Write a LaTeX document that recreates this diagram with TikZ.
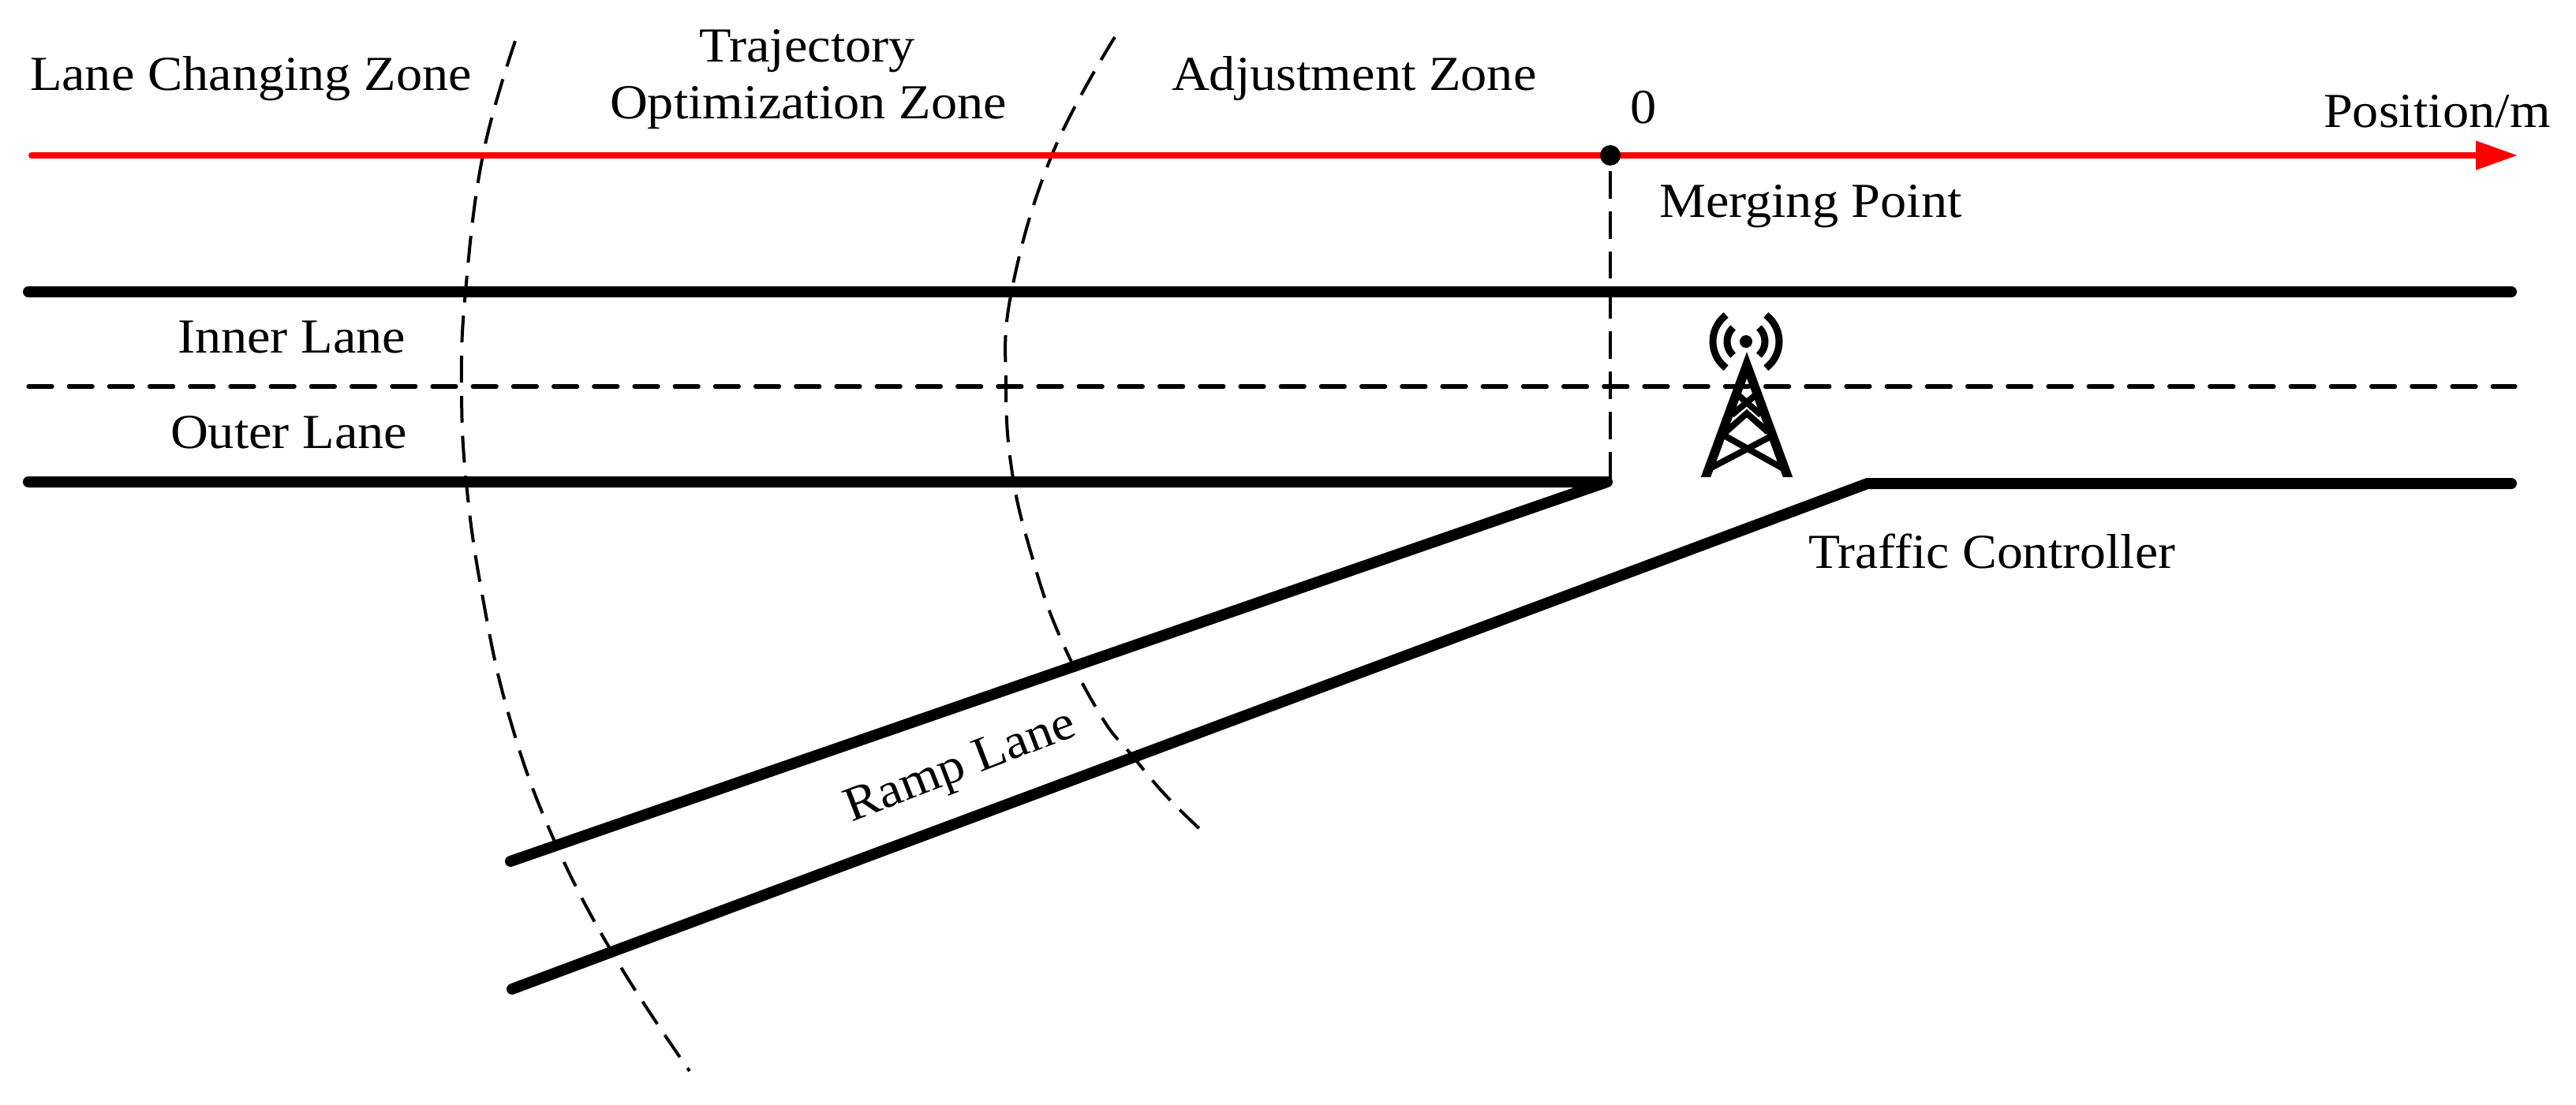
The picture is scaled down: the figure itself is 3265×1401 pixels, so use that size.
\documentclass[tikz,border=0pt]{standalone}
\usepackage{fontspec}
\setmainfont[FakeStretch=1.07]{Liberation Serif}
\usetikzlibrary{arrows.meta}
\tikzset{
  lbl/.style={anchor=base west,inner sep=0pt,outer sep=0pt,font=\fontsize{15.5}{18}\selectfont},
  road/.style={line width=3.5pt,black,line cap=round,line join=round},
  axisline/.style={line width=2pt,red,line cap=round,-{Triangle[length=13.25pt,width=8.75pt]}},
  lanedash/.style={line width=1.3pt,black,line cap=round,dash pattern=on 7.5pt off 5.3pt},
  vdash/.style={line width=1pt,black,dash pattern=on 8.7pt off 4pt},
  zone/.style={line width=1pt,black,dash pattern=on 8.5pt off 4.2pt},
  leg/.style={line width=2.9pt,black,line join=miter},
  brace/.style={line width=2pt,black},
  wave/.style={line width=2.25pt,black}
}
\begin{document}
\begin{tikzpicture}[x=0.25pt,y=-0.25pt]
\path[use as bounding box] (0,0) rectangle (3265,1401);
% coordinates
\coordinate (axL) at (40,197);
\coordinate (axR) at (3191,197);
\coordinate (merge) at (2041,197);
\coordinate (dashTop) at (2041,217);
\coordinate (dashBot) at (2041,611);
\coordinate (kink) at (2037,611);
\coordinate (topL) at (36,370);
\coordinate (topR) at (3183,370);
\coordinate (midL) at (36,490);
\coordinate (midR) at (3188,490);
\coordinate (outL) at (36,611);
\coordinate (rampTopL) at (647,1092);
\coordinate (rampLowL) at (649,1254);
\coordinate (rampKink) at (2367,613);
\coordinate (outR) at (3183,613);
% zone boundaries
\draw[zone] plot[smooth,tension=0.7] coordinates {(653,52) (612,197) (590,370) (585,490) (591,612) (611,753) (645,907) (700,1060) (779,1213) (874,1358)};
\draw[zone] plot[smooth,tension=0.7] coordinates {(1413,47) (1333,197) (1282,370) (1275,490) (1283,600) (1307,702) (1342,804) (1395,907) (1435,958) (1478,1009) (1528,1058)};
% lanes
\draw[road] (topL) -- (topR);
\draw[lanedash] (midL) -- (midR);
\draw[road] (outL) -- (kink) -- (rampTopL);
\draw[road] (rampLowL) -- (rampKink) -- (outR);
\draw[vdash] (dashTop) -- (dashBot);
% axis
\draw[axisline] (axL) -- (axR);
\node[circle,fill=black,inner sep=0pt,minimum size=6.5pt] (mergedot) at (merge) {};
% tower
\coordinate (tApex) at (2214,463);
\coordinate (tFootL) at (2159,613);
\coordinate (tFootR) at (2269,613);
\coordinate (tC) at (2213,433);
\begin{scope}
\clip (2140,440) rectangle (2290,604);
\draw[leg] (tFootL) -- (tApex) -- (tFootR);
\end{scope}
\draw[brace] (2167,594) -- (2247,552);
\draw[brace] (2260,594) -- (2185,552);
\draw[brace] (2187,548) -- (2214,524) -- (2241,548);
\draw[brace] (2195,526) -- (2226,500);
\draw[brace] (2232,526) -- (2202,500);
\fill (tC) circle[radius=2pt];
\draw[wave] (tC) ++(47:6pt) arc[start angle=47,end angle=-47,radius=6pt];
\draw[wave] (tC) ++(133:6pt) arc[start angle=133,end angle=227,radius=6pt];
\draw[wave] (tC) ++(53:10.5pt) arc[start angle=53,end angle=-53,radius=10.5pt];
\draw[wave] (tC) ++(127:10.5pt) arc[start angle=127,end angle=233,radius=10.5pt];
% labels
\node[lbl] (lcz) at (38,115) {Lane Changing Zone};
\node[lbl] (traj) at (886,79) {Trajectory};
\node[lbl] (opt) at (773,151) {Optimization Zone};
\node[lbl] (adj) at (1485,115) {Adjustment Zone};
\node[lbl] (zero) at (2066,157) {0};
\node[lbl] (pos) at (2945,162) {Position/m};
\node[lbl] (mp) at (2103,276) {Merging Point};
\node[lbl] (inner) at (225,447) {Inner Lane};
\node[lbl] (outer) at (216,568) {Outer Lane};
\node[lbl,xscale=0.99] (tc) at (2292,720) {Traffic Controller};
\node[lbl,anchor=base,rotate=21] (ramp) at (1223,987) {Ramp Lane};
\end{tikzpicture}
\end{document}
